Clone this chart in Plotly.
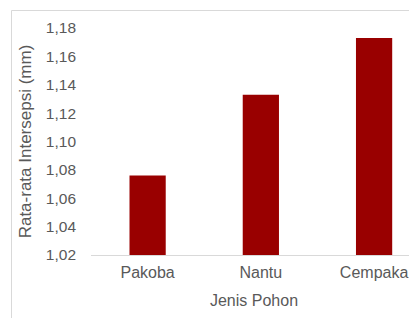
import plotly.graph_objects as go

categories = ["Pakoba", "Nantu", "Cempaka"]
values = [1.076, 1.133, 1.173]
y_ticks = [1.02, 1.04, 1.06, 1.08, 1.10, 1.12, 1.14, 1.16, 1.18]

# page body adds an 8px offset; figure sized so its right edge meets the window edge
W, H = 409, 310
ML, MR, MT, MB = 83, 0, 20, 63
pw, ph = W - ML - MR, H - MT - MB

def px(x):
    return (x - ML) / pw

def py(y):
    return (H - MB - y) / ph

FONT = "Liberation Sans, Arial, Helvetica, sans-serif"
GREY = "#595959"

fig = go.Figure(go.Bar(
    x=categories, y=values, width=0.32,
    marker=dict(color="#990000", line=dict(width=0)),
))

fig.update_layout(
    width=W, height=H,
    margin=dict(l=ML, r=MR, t=MT, b=MB, pad=0),
    paper_bgcolor="white", plot_bgcolor="white",
    separators=",.",
    showlegend=False,
    font=dict(family=FONT, color=GREY, size=15),
    xaxis=dict(
        range=[-0.5, 2.379],
        showline=True, linecolor="#d9d9d9", linewidth=1,
        ticks="", showgrid=False,
        ticklabelstandoff=3,
        tickfont=dict(size=16, color=GREY),
        title=dict(text="Jenis Pohon", font=dict(size=16, color=GREY), standoff=14),
    ),
    yaxis=dict(
        range=[1.02, 1.18],
        tickvals=y_ticks, tickformat=".2f",
        showline=False, showgrid=False, zeroline=False, ticks="",
        ticklabelstandoff=14,
        tickfont=dict(size=15.5, color=GREY),
        title=dict(text="Rata-rata Intersepsi (mm)", font=dict(size=17, color=GREY), standoff=9),
    ),
    shapes=[dict(
        type="rect", xref="paper", yref="paper",
        x0=px(3.5), x1=px(420), y0=py(320), y1=py(2.5),
        line=dict(color="#d9d9d9", width=1), fillcolor="rgba(0,0,0,0)",
        layer="below",
    )],
)

fig.write_html("out.html")
